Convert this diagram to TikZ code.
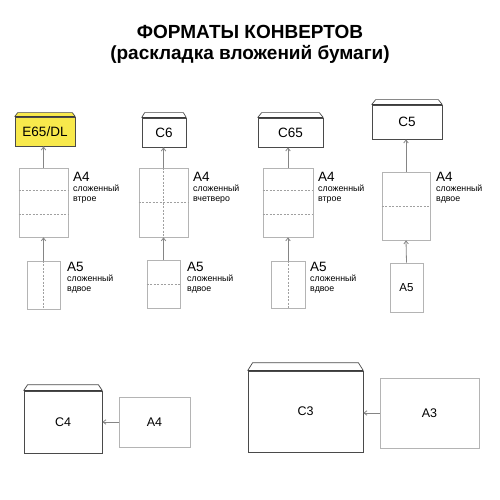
\documentclass[tikz,border=0pt]{standalone}
\usepackage{fontspec}
\setmainfont{Liberation Sans}
\usetikzlibrary{positioning,arrows.meta}
\definecolor{envline}{HTML}{4A4A4A}
\definecolor{paperline}{HTML}{B4B4B4}
\definecolor{foldline}{HTML}{A0A0A0}
\definecolor{feedline}{HTML}{858585}
\definecolor{dlyellow}{HTML}{F8E94C}
\tikzset{
    >={Straight Barb[length=3pt,width=4.5pt]},
    envelope/.style = {draw=envline, fill=white, line width=0.7pt, inner sep=0pt,
                       font=\fontsize{13.5}{14}\selectfont},
    paper/.style = {draw=paperline, line width=0.6pt, inner sep=0pt,
                    font=\fontsize{11.5}{12}\selectfont},
    fold/.style = {draw=foldline, line width=0.5pt, dash pattern=on 2pt off 1.5pt},
    feed/.style = {draw=feedline, line width=0.8pt, ->},
    biglabel/.style = {anchor=west, inner sep=0pt, font=\fontsize{13.5}{14}\selectfont},
    smalllabel/.style = {anchor=north west, inner sep=0pt, align=left,
                         font=\fontsize{8.8}{9.8}\selectfont},
}
% flap on top of an envelope: node, inset, height, fill
\newcommand\envflap[4]{%
    \draw[draw=envline, fill=#4, line width=0.7pt]
        (#1.north west) -- ([xshift=#2pt, yshift=#3pt]#1.north west)
        -- ([xshift=-#2pt, yshift=#3pt]#1.north east) -- (#1.north east);
    \draw[draw=envline!80!black, line width=1.3pt] (#1.north west) -- (#1.north east);}

\begin{document}
\begin{tikzpicture}[x=1pt, y=-1pt]
    \useasboundingbox (0,0) rectangle (500,500);

    % title
    \node (title) at (250,32) {\fontsize{19}{20}\selectfont\bfseries ФОРМАТЫ КОНВЕРТОВ};
    \node (subtitle) at (250,54) {\fontsize{19}{20}\selectfont\bfseries (раскладка вложений бумаги)};

    % E65/DL
    \node (dl) [envelope, fill=dlyellow, minimum width=60pt, minimum height=29pt] at (45,131.5) {E65/DL};
    \envflap{dl}{3}{4}{dlyellow}
    \node (dla4) [paper, minimum width=49pt, minimum height=69pt] at (43.5,202.5) {};
    \draw[fold] ([yshift=-23pt]dla4.north west) -- ([yshift=-23pt]dla4.north east);
    \draw[fold] ([yshift=23pt]dla4.south west) -- ([yshift=23pt]dla4.south east);
    \node (dla5) [paper, minimum width=33pt, minimum height=48pt] at (43.5,285) {};
    \draw[fold] (dla5.north) -- (dla5.south);
    \draw[feed] (dla4.north) -- (dla4.north |- dl.south);
    \draw[feed] (dla5.north) -- (dla4.south);
    \node (dla4lab) [biglabel] at (73,177) {A4};
    \node (dla4txt) [smalllabel, below=3pt of dla4lab.south west, anchor=north west] {сложенный\\втрое};
    \node (dla5lab) [biglabel] at (67,267) {A5};
    \node (dla5txt) [smalllabel, below=3pt of dla5lab.south west, anchor=north west] {сложенный\\вдвое};

    % C6
    \node (csix) [envelope, minimum width=44pt, minimum height=29pt] at (164,132.5) {C6};
    \envflap{csix}{3}{5}{white}
    \node (csixa4) [paper, minimum width=49pt, minimum height=69pt] at (163.5,202.5) {};
    \draw[fold] (csixa4.west) -- (csixa4.east);
    \draw[fold] (csixa4.north) -- (csixa4.south);
    \node (csixa5) [paper, minimum width=33pt, minimum height=48pt] at (163.5,284) {};
    \draw[fold] (csixa5.west) -- (csixa5.east);
    \draw[feed] (csixa4.north) -- (csixa4.north |- csix.south);
    \draw[feed] (csixa5.north) -- (csixa4.south);
    \node (csixa4lab) [biglabel] at (193,177) {A4};
    \node (csixa4txt) [smalllabel, below=3pt of csixa4lab.south west, anchor=north west] {сложенный\\вчетверо};
    \node (csixa5lab) [biglabel] at (187,267) {A5};
    \node (csixa5txt) [smalllabel, below=3pt of csixa5lab.south west, anchor=north west] {сложенный\\вдвое};

    % C65
    \node (csf) [envelope, minimum width=65pt, minimum height=29pt] at (290.5,132.5) {C65};
    \envflap{csf}{4}{5}{white}
    \node (csfa4) [paper, minimum width=50pt, minimum height=69pt] at (288,202.5) {};
    \draw[fold] ([yshift=-23pt]csfa4.north west) -- ([yshift=-23pt]csfa4.north east);
    \draw[fold] ([yshift=23pt]csfa4.south west) -- ([yshift=23pt]csfa4.south east);
    \node (csfa5) [paper, minimum width=34pt, minimum height=47pt] at (288,284.5) {};
    \draw[fold] (csfa5.north) -- (csfa5.south);
    \draw[feed] (csfa4.north) -- (csfa4.north |- csf.south);
    \draw[feed] (csfa5.north) -- (csfa4.south);
    \node (csfa4lab) [biglabel] at (318,177) {A4};
    \node (csfa4txt) [smalllabel, below=3pt of csfa4lab.south west, anchor=north west] {сложенный\\втрое};
    \node (csfa5lab) [biglabel] at (310,267) {A5};
    \node (csfa5txt) [smalllabel, below=3pt of csfa5lab.south west, anchor=north west] {сложенный\\вдвое};

    % C5
    \node (cfive) [envelope, minimum width=70pt, minimum height=34pt] at (407,122) {C5};
    \envflap{cfive}{4}{5}{white}
    \node (cfivea4) [paper, minimum width=48pt, minimum height=68pt] at (406,206) {};
    \draw[fold] (cfivea4.west) -- (cfivea4.east);
    \node (cfivea5) [paper, minimum width=33pt, minimum height=49pt] at (406.5,287.5) {A5};
    \draw[feed] (cfivea4.north) -- (cfivea4.north |- cfive.south);
    \draw[feed] (cfivea5.north) -- (cfivea4.south);
    \node (cfivea4lab) [biglabel] at (436,177) {A4};
    \node (cfivea4txt) [smalllabel, below=3pt of cfivea4lab.south west, anchor=north west] {сложенный\\вдвое};

    % C4 and C3
    \node (cfour) [envelope, font=\fontsize{12.5}{13}\selectfont, minimum width=78pt, minimum height=62pt] at (63,422) {C4};
    \envflap{cfour}{4}{6}{white}
    \node (cfoura4) [paper, font=\fontsize{12.5}{13}\selectfont, minimum width=71pt, minimum height=50pt] at (154.5,422) {A4};
    \draw[feed] (cfoura4.west) -- (cfour.east);

    \node (cthree) [envelope, font=\fontsize{12.5}{13}\selectfont, minimum width=115pt, minimum height=81pt] at (305.5,411.5) {C3};
    \envflap{cthree}{5}{8}{white}
    \node (cthreea3) [paper, font=\fontsize{12.5}{13}\selectfont, minimum width=99pt, minimum height=70pt] at (429.5,413) {A3};
    \draw[feed] (cthreea3.west) -- (cthreea3.west -| cthree.east);
\end{tikzpicture}
\end{document}
